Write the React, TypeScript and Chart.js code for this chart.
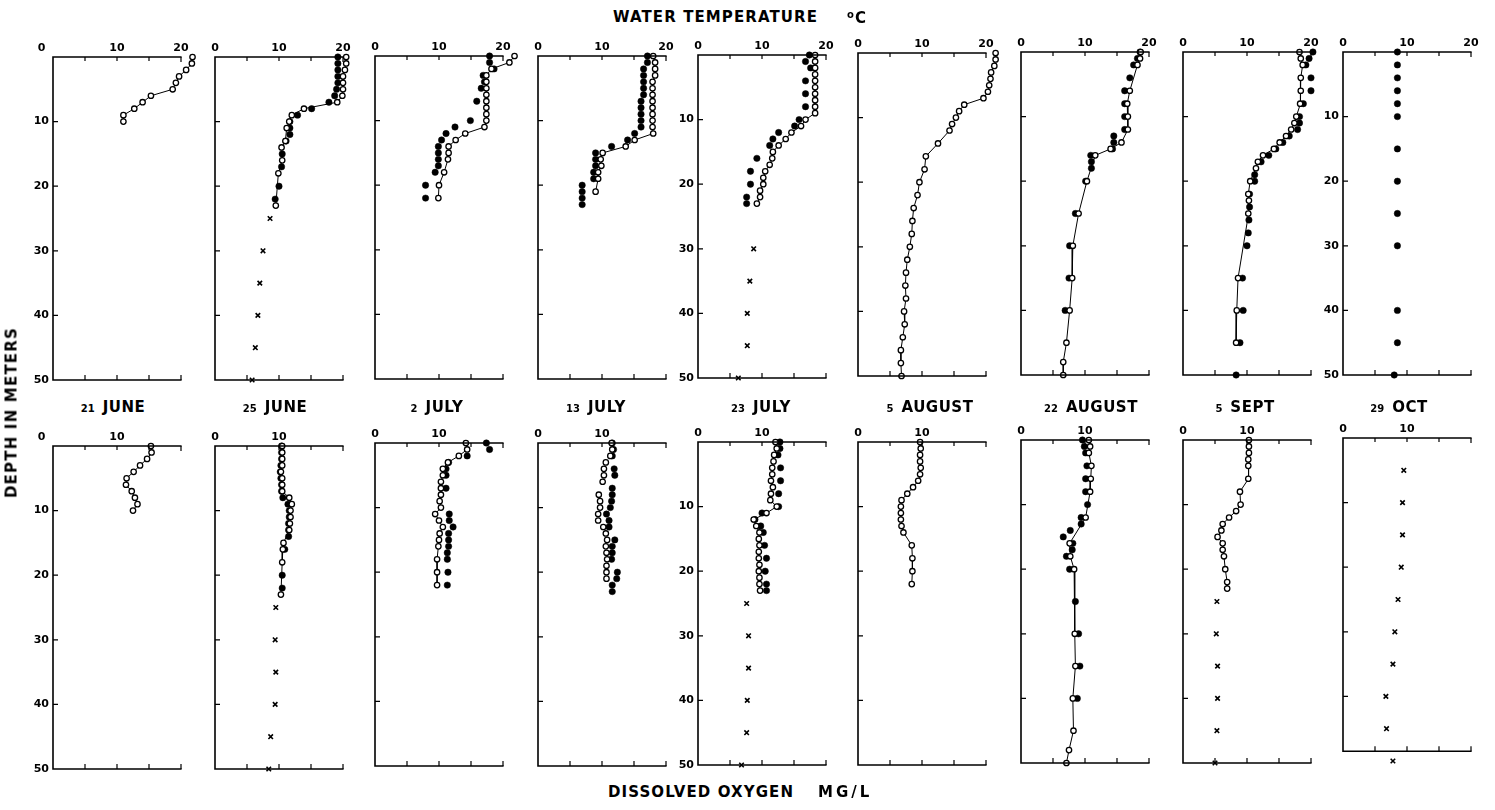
import React, { useEffect, useRef } from "react";
import { Chart, registerables } from "chart.js";

Chart.register(...registerables);

// ---------------- labels ----------------
const dateDays = ["21", "25", "2", "13", "23", "5", "22", "5", "29"];
const dateMonths = ["JUNE", "JUNE", "JULY", "JULY", "JULY", "AUGUST", "AUGUST", "SEPT", "OCT"];
const tempTickLabels = [0, 10, 20];
const oxyTickLabels = [0, 10];
const depthTickLabels = [10, 20, 30, 40, 50];

// ---------------- WATER TEMPERATURE (°C) vs depth (m) ----------------
// 21 June
const tJun21OpenDepth = [0, 1, 2, 3, 4, 5, 6, 7, 8, 9, 10];
const tJun21OpenVal = [21.8, 21.7, 20.8, 19.7, 19.2, 18.7, 15.3, 14.0, 12.7, 11.0, 11.0];
// 25 June
const tJun25OpenDepth = [0, 1, 2, 3, 4, 5, 6, 7, 8, 9, 10, 11, 13, 14, 16, 18, 23];
const tJun25OpenVal = [20.5, 20.5, 20.3, 20.0, 20.0, 20.0, 19.9, 19.1, 13.9, 12.0, 11.6, 11.2, 11.0, 10.4, 10.5, 9.9, 9.5];
const tJun25FilledDepth = [0, 1, 2, 3, 4, 5, 6, 7, 8, 9, 10, 11, 12, 13, 15, 17, 20, 22];
const tJun25FilledVal = [19.2, 19.2, 19.2, 19.2, 19.2, 19.0, 18.7, 17.8, 15.1, 12.9, 11.7, 11.7, 11.7, 11.1, 10.5, 10.4, 10.0, 9.4];
const tJun25CrossDepth = [25, 30, 35, 40, 45, 50];
const tJun25CrossVal = [8.6, 7.5, 7.0, 6.7, 6.3, 5.8];
// 2 July
const tJul02OpenDepth = [0, 1, 2, 3, 4, 5, 6, 7, 8, 9, 10, 11, 12, 13, 14, 15, 16, 18, 20, 22];
const tJul02OpenVal = [21.8, 21.0, 18.2, 17.4, 17.4, 17.4, 17.4, 17.4, 17.4, 17.4, 17.4, 17.1, 14.1, 12.6, 11.5, 11.5, 11.4, 10.8, 10.0, 9.9];
const tJul02FilledDepth = [0, 1, 2, 3, 4, 5, 7, 10, 11, 12, 13, 14, 15, 16, 17, 18, 20, 22];
const tJul02FilledVal = [17.9, 17.9, 18.6, 16.9, 17.1, 16.6, 15.9, 14.9, 12.5, 11.1, 10.4, 9.9, 9.9, 9.9, 9.9, 9.4, 7.9, 7.9];
// 13 July
const tJul13OpenDepth = [0, 1, 2, 3, 4, 5, 6, 7, 8, 9, 10, 11, 12, 13, 14, 15, 16, 17, 18, 19, 21];
const tJul13OpenVal = [18.0, 18.3, 18.3, 18.3, 17.9, 17.9, 17.9, 17.9, 17.9, 17.9, 17.9, 17.9, 18.0, 15.1, 13.7, 10.1, 9.8, 9.9, 9.4, 9.4, 9.0];
const tJul13FilledDepth = [0, 1, 2, 3, 4, 5, 6, 7, 8, 9, 10, 11, 12, 13, 14, 15, 16, 17, 18, 19, 20, 21, 22, 23];
const tJul13FilledVal = [17.1, 17.1, 16.5, 16.5, 16.5, 16.5, 16.5, 16.1, 16.1, 16.1, 16.1, 16.1, 15.1, 14.0, 11.5, 9.0, 9.0, 9.0, 8.7, 8.7, 6.9, 6.9, 6.9, 6.9];
// 23 July
const tJul23OpenDepth = [0, 1, 2, 3, 4, 5, 6, 7, 8, 9, 10, 11, 12, 13, 14, 15, 16, 17, 18, 19, 20, 21, 22, 23];
const tJul23OpenVal = [18.3, 18.3, 18.3, 18.3, 18.3, 18.3, 18.3, 18.3, 18.3, 18.3, 16.8, 16.1, 14.6, 13.7, 12.6, 11.7, 11.6, 11.2, 10.5, 10.2, 10.2, 9.7, 9.7, 9.2];
const tJul23FilledDepth = [0, 1, 2, 4, 6, 8, 10, 11, 12, 13, 14, 16, 18, 20, 22, 23];
const tJul23FilledVal = [17.4, 16.8, 17.6, 16.8, 16.8, 16.8, 15.8, 15.1, 12.6, 11.7, 11.2, 9.2, 8.2, 8.2, 7.6, 7.6];
const tJul23CrossDepth = [30, 35, 40, 45, 50];
const tJul23CrossVal = [8.7, 8.1, 7.7, 7.7, 6.3];
// 5 August
const tAug05OpenDepth = [0, 1, 2, 3, 4, 5, 6, 7, 8, 9, 10, 11, 12, 14, 16, 18, 20, 22, 24, 26, 28, 30, 32, 34, 36, 38, 40, 42, 44, 46, 48, 50];
const tAug05OpenVal = [21.5, 21.5, 21.3, 20.8, 20.7, 20.5, 20.3, 19.6, 16.6, 15.8, 15.3, 14.7, 14.3, 12.5, 10.6, 10.4, 9.6, 9.3, 8.7, 8.5, 8.4, 8.1, 7.7, 7.5, 7.4, 7.5, 7.2, 7.3, 7.0, 6.7, 6.7, 6.8];
// 22 August
const tAug22OpenDepth = [0, 1, 2, 6, 8, 10, 12, 14, 15, 16, 20, 25, 30, 35, 40, 45, 48, 50];
const tAug22OpenVal = [18.7, 18.6, 18.2, 17.0, 16.6, 16.7, 16.7, 15.7, 14.0, 11.6, 10.3, 9.0, 8.1, 8.0, 7.6, 7.1, 6.6, 6.6];
const tAug22FilledDepth = [0, 1, 2, 4, 6, 8, 10, 12, 13, 14, 15, 16, 17, 18, 20, 25, 30, 35, 40];
const tAug22FilledVal = [18.6, 18.2, 17.6, 17.0, 16.2, 16.2, 16.2, 16.2, 14.5, 14.5, 14.3, 10.9, 11.0, 11.0, 10.1, 8.5, 7.6, 7.5, 6.9];
// 5 September
const tSep05OpenDepth = [0, 1, 2, 4, 6, 8, 10, 11, 12, 13, 14, 15, 16, 17, 18, 20, 22, 23, 25, 35, 40, 45];
const tSep05OpenVal = [18.2, 18.4, 18.7, 18.4, 18.4, 18.3, 17.7, 17.4, 16.9, 16.1, 15.1, 14.2, 12.5, 11.7, 11.4, 10.5, 10.2, 10.3, 10.2, 8.6, 8.4, 8.3];
const tSep05FilledDepth = [0, 1, 2, 4, 6, 8, 10, 11, 12, 13, 14, 15, 16, 17, 19, 20, 22, 24, 26, 28, 30, 35, 40, 45, 50];
const tSep05FilledVal = [20.3, 19.7, 19.2, 20.0, 20.0, 18.8, 18.2, 18.2, 17.9, 16.6, 15.6, 14.5, 13.4, 12.2, 11.2, 11.2, 10.4, 10.4, 10.3, 10.2, 10.0, 9.3, 9.4, 8.9, 8.3];
// 29 October
const tOct29FilledDepth = [0, 2, 4, 6, 8, 10, 15, 20, 25, 30, 40, 45, 50];
const tOct29FilledVal = [8.5, 8.5, 8.5, 8.5, 8.5, 8.5, 8.5, 8.5, 8.5, 8.5, 8.5, 8.5, 8.0];

// ---------------- DISSOLVED OXYGEN (mg/L) vs depth (m) ----------------
// 21 June
const oJun21OpenDepth = [0, 1, 2, 3, 4, 5, 6, 7, 8, 9, 10];
const oJun21OpenVal = [15.3, 15.4, 14.7, 13.6, 12.6, 11.5, 11.4, 12.3, 12.8, 13.2, 12.5];
// 25 June
const oJun25OpenDepth = [0, 1, 2, 3, 4, 5, 6, 7, 8, 9, 10, 11, 12, 13, 15, 16, 18, 23];
const oJun25OpenVal = [10.5, 10.5, 10.5, 10.5, 10.3, 10.5, 10.5, 10.5, 11.6, 12.0, 11.8, 11.8, 11.7, 11.6, 10.7, 10.6, 10.5, 10.3];
const oJun25FilledDepth = [0, 1, 2, 3, 4, 5, 6, 7, 8, 9, 10, 11, 12, 13, 14, 16, 20, 22];
const oJun25FilledVal = [10.4, 10.4, 10.4, 10.3, 10.2, 10.3, 10.4, 10.4, 10.6, 11.4, 11.6, 11.6, 11.5, 11.5, 11.5, 10.9, 10.5, 10.5];
const oJun25CrossDepth = [25, 30, 35, 40, 45, 50];
const oJun25CrossVal = [9.5, 9.4, 9.5, 9.4, 8.7, 8.4];
// 2 July
const oJul02OpenDepth = [0, 1, 2, 3, 4, 5, 6, 7, 8, 9, 10, 11, 12, 13, 14, 15, 16, 18, 20, 22];
const oJul02OpenVal = [14.2, 14.4, 13.1, 11.4, 10.6, 10.6, 10.3, 10.3, 10.3, 10.1, 10.3, 9.4, 10.0, 10.6, 10.1, 10.0, 9.9, 9.7, 9.7, 9.7];
const oJul02FilledDepth = [0, 1, 2, 3, 4, 5, 7, 11, 12, 13, 14, 15, 16, 17, 18, 20, 22];
const oJul02FilledVal = [17.4, 17.9, 14.4, 11.5, 11.1, 11.1, 11.1, 11.6, 11.6, 12.2, 11.5, 11.5, 11.5, 11.3, 11.3, 11.4, 11.3];
// 13 July
const oJul13OpenDepth = [0, 1, 2, 3, 4, 5, 6, 8, 9, 10, 11, 12, 13, 14, 15, 16, 17, 18, 19, 20, 21];
const oJul13OpenVal = [11.5, 11.6, 11.3, 10.6, 10.3, 10.3, 10.1, 9.5, 9.7, 9.7, 9.4, 9.4, 10.2, 10.6, 10.8, 10.6, 10.7, 10.8, 10.7, 10.7, 10.7];
const oJul13FilledDepth = [0, 1, 2, 4, 5, 7, 8, 9, 10, 11, 12, 13, 15, 16, 17, 18, 20, 21, 22, 23];
const oJul13FilledVal = [11.6, 11.8, 11.6, 11.9, 12.0, 11.6, 11.6, 11.5, 11.3, 10.7, 11.1, 11.1, 12.0, 11.6, 11.6, 11.5, 12.4, 12.3, 11.6, 11.6];
// 23 July
const oJul23OpenDepth = [0, 1, 2, 3, 4, 5, 6, 7, 8, 9, 10, 11, 12, 13, 14, 15, 16, 17, 18, 19, 20, 21, 22, 23];
const oJul23OpenVal = [12.1, 12.3, 11.9, 11.8, 11.6, 11.6, 11.4, 11.7, 11.4, 11.3, 12.3, 10.7, 8.7, 9.1, 9.6, 9.5, 9.6, 9.5, 9.5, 9.6, 9.5, 9.6, 9.6, 9.7];
const oJul23FilledDepth = [0, 1, 2, 4, 6, 8, 10, 11, 12, 13, 14, 16, 18, 20, 22, 23];
const oJul23FilledVal = [12.8, 12.8, 12.5, 12.9, 12.9, 12.6, 12.6, 10.0, 8.9, 9.8, 10.2, 10.4, 10.7, 10.5, 10.7, 10.7];
const oJul23CrossDepth = [25, 30, 35, 40, 45, 50];
const oJul23CrossVal = [7.6, 7.9, 7.9, 7.7, 7.6, 6.8];
// 5 August
const oAug05OpenDepth = [0, 1, 2, 3, 4, 5, 6, 7, 8, 9, 10, 11, 12, 13, 14, 16, 18, 20, 22];
const oAug05OpenVal = [9.7, 9.8, 9.7, 9.7, 9.8, 9.7, 9.4, 8.6, 7.7, 6.8, 6.7, 6.7, 6.7, 6.8, 7.1, 8.4, 8.5, 8.5, 8.4];
// 22 August
const oAug22OpenDepth = [0, 1, 2, 4, 6, 8, 12, 16, 18, 20, 30, 35, 40, 45, 48, 50];
const oAug22OpenVal = [10.6, 10.8, 10.6, 11.0, 10.9, 10.8, 10.1, 7.6, 7.7, 8.3, 8.4, 8.5, 8.1, 8.2, 7.5, 7.1];
const oAug22FilledDepth = [0, 1, 2, 4, 6, 8, 10, 12, 13, 14, 15, 16, 17, 18, 20, 25, 30, 35, 40];
const oAug22FilledVal = [9.6, 9.9, 10.1, 10.3, 10.1, 10.1, 10.4, 9.4, 9.4, 7.7, 6.6, 8.1, 8.0, 7.1, 7.6, 8.5, 9.0, 9.2, 8.8];
// 5 September
const oSep05OpenDepth = [0, 1, 2, 3, 4, 6, 8, 10, 11, 12, 13, 14, 15, 16, 17, 18, 20, 22, 23];
const oSep05OpenVal = [10.3, 10.3, 10.3, 10.2, 10.2, 10.2, 8.9, 9.0, 8.3, 7.2, 6.2, 6.0, 5.4, 6.2, 6.2, 6.4, 6.6, 6.9, 6.9];
const oSep05CrossDepth = [25, 30, 35, 40, 45, 50];
const oSep05CrossVal = [5.3, 5.2, 5.4, 5.4, 5.3, 5.0];
// 29 October
const oOct29CrossDepth = [5, 10, 15, 20, 25, 30, 35, 40, 45, 50];
const oOct29CrossVal = [9.5, 9.3, 9.3, 9.1, 8.6, 8.1, 7.8, 6.7, 6.8, 7.8];

// ---------------- layout ----------------
type Kind = "open" | "filled" | "cross";
type Series = { kind: Kind; d: number[]; v: number[]; line?: boolean };
type PanelSpec = {
  row: number;
  col: number;
  series: Series[];
  showY: boolean;
  top: number;
  axisBottomDepth: number;
};

const PANEL_LEFTS = [53, 215, 375, 538, 698, 858, 1021, 1183, 1343];
const TOP_ROW_TOPS = [57, 57, 56, 56, 55, 53, 52, 52, 52];
const BOTTOM_ROW_TOPS = [446, 446, 443, 443, 442, 442, 440, 440, 438];
const DATE_CX = [113, 275, 437, 596, 761, 930, 1091, 1245, 1399];
const SCALE_H = 323; // pixels for 0..50 m
const X_MAX = 22.5; // room for readings above 20
const AREA_W = 144; // 0..22.5 -> 0..20 spans 128 px
const PAD_L = 45;
const PAD_T = 25;
const PAD_R = 6;
const PAD_B = 12;
const FONT = "'DejaVu Sans', 'Liberation Sans', sans-serif";

const tempSeries: Series[][] = [
  [{ kind: "open", d: tJun21OpenDepth, v: tJun21OpenVal, line: true }],
  [
    { kind: "open", d: tJun25OpenDepth, v: tJun25OpenVal, line: true },
    { kind: "filled", d: tJun25FilledDepth, v: tJun25FilledVal },
    { kind: "cross", d: tJun25CrossDepth, v: tJun25CrossVal },
  ],
  [
    { kind: "open", d: tJul02OpenDepth, v: tJul02OpenVal, line: true },
    { kind: "filled", d: tJul02FilledDepth, v: tJul02FilledVal },
  ],
  [
    { kind: "open", d: tJul13OpenDepth, v: tJul13OpenVal, line: true },
    { kind: "filled", d: tJul13FilledDepth, v: tJul13FilledVal },
  ],
  [
    { kind: "open", d: tJul23OpenDepth, v: tJul23OpenVal, line: true },
    { kind: "filled", d: tJul23FilledDepth, v: tJul23FilledVal },
    { kind: "cross", d: tJul23CrossDepth, v: tJul23CrossVal },
  ],
  [{ kind: "open", d: tAug05OpenDepth, v: tAug05OpenVal, line: true }],
  [
    { kind: "open", d: tAug22OpenDepth, v: tAug22OpenVal, line: true },
    { kind: "filled", d: tAug22FilledDepth, v: tAug22FilledVal },
  ],
  [
    { kind: "open", d: tSep05OpenDepth, v: tSep05OpenVal, line: true },
    { kind: "filled", d: tSep05FilledDepth, v: tSep05FilledVal },
  ],
  [{ kind: "filled", d: tOct29FilledDepth, v: tOct29FilledVal }],
];

const oxySeries: Series[][] = [
  [{ kind: "open", d: oJun21OpenDepth, v: oJun21OpenVal, line: true }],
  [
    { kind: "open", d: oJun25OpenDepth, v: oJun25OpenVal, line: true },
    { kind: "filled", d: oJun25FilledDepth, v: oJun25FilledVal },
    { kind: "cross", d: oJun25CrossDepth, v: oJun25CrossVal },
  ],
  [
    { kind: "open", d: oJul02OpenDepth, v: oJul02OpenVal, line: true },
    { kind: "filled", d: oJul02FilledDepth, v: oJul02FilledVal },
  ],
  [
    { kind: "open", d: oJul13OpenDepth, v: oJul13OpenVal },
    { kind: "filled", d: oJul13FilledDepth, v: oJul13FilledVal },
  ],
  [
    { kind: "open", d: oJul23OpenDepth, v: oJul23OpenVal, line: true },
    { kind: "filled", d: oJul23FilledDepth, v: oJul23FilledVal },
    { kind: "cross", d: oJul23CrossDepth, v: oJul23CrossVal },
  ],
  [{ kind: "open", d: oAug05OpenDepth, v: oAug05OpenVal, line: true }],
  [
    { kind: "open", d: oAug22OpenDepth, v: oAug22OpenVal, line: true },
    { kind: "filled", d: oAug22FilledDepth, v: oAug22FilledVal },
  ],
  [
    { kind: "open", d: oSep05OpenDepth, v: oSep05OpenVal, line: true },
    { kind: "cross", d: oSep05CrossDepth, v: oSep05CrossVal },
  ],
  [{ kind: "cross", d: oOct29CrossDepth, v: oOct29CrossVal }],
];

const Y_SHOW_TOP = [0, 4, 8];
const Y_SHOW_BOTTOM = [0, 4];

const panels: PanelSpec[] = [
  ...tempSeries.map((s, i) => ({
    row: 0,
    col: i,
    series: s,
    showY: Y_SHOW_TOP.includes(i),
    top: TOP_ROW_TOPS[i],
    axisBottomDepth: 50,
  })),
  ...oxySeries.map((s, i) => ({
    row: 1,
    col: i,
    series: s,
    showY: Y_SHOW_BOTTOM.includes(i),
    top: BOTTOM_ROW_TOPS[i],
    axisBottomDepth: i === 8 ? 48.5 : 50,
  })),
];

const decorPlugin = {
  id: "decor",
  afterDraw(chart: any, _args: any, opts: any) {
    const { ctx, scales } = chart;
    const xs = scales.x;
    const ys = scales.y;
    const x0 = xs.getPixelForValue(0);
    const xEnd = xs.getPixelForValue(20);
    const yTop = ys.getPixelForValue(0);
    const yBot = ys.getPixelForValue(opts.axisBottomDepth ?? 50);
    ctx.save();
    ctx.strokeStyle = "#000";
    ctx.lineCap = "butt";
    ctx.lineWidth = 1.6;
    ctx.beginPath();
    // top axis
    ctx.moveTo(x0 - 0.8, yTop);
    ctx.lineTo(xEnd + 0.6, yTop);
    // left axis
    ctx.moveTo(x0, yTop);
    ctx.lineTo(x0, yBot + 0.8);
    // bottom axis
    ctx.moveTo(x0 - 0.8, yBot);
    ctx.lineTo(xEnd + 0.6, yBot);
    ctx.stroke();

    ctx.lineWidth = 1.2;
    ctx.beginPath();
    for (const v of [5, 10, 15, 20]) {
      const px = xs.getPixelForValue(v);
      ctx.moveTo(px, yBot);
      ctx.lineTo(px, yBot - 5);
    }
    for (const v of [5, 10, 15]) {
      const px = xs.getPixelForValue(v);
      ctx.moveTo(px, yTop);
      ctx.lineTo(px, yTop + 4);
    }
    ctx.moveTo(xEnd, yTop);
    ctx.lineTo(xEnd, yTop + 5);
    for (const d of [10, 20, 30, 40]) {
      const py = ys.getPixelForValue(d);
      ctx.moveTo(x0, py);
      ctx.lineTo(x0 + 5, py);
    }
    ctx.stroke();
    ctx.restore();
  },
};

function makeDataset(s: Series) {
  const data = s.d.map((dep, i) => ({ x: s.v[i], y: dep }));
  const base: any = {
    data,
    clip: false,
    showLine: !!s.line,
    borderColor: "#000",
    borderWidth: 1,
    pointBorderColor: "#000",
    pointHoverRadius: 0,
  };
  if (s.kind === "open") {
    return { ...base, order: 0, pointStyle: "circle", pointRadius: 2.7, pointBorderWidth: 1.3, pointBackgroundColor: "#fff" };
  }
  if (s.kind === "filled") {
    return { ...base, order: 1, pointStyle: "circle", pointRadius: 3.2, pointBorderWidth: 0.5, pointBackgroundColor: "#000" };
  }
  return { ...base, order: 2, pointStyle: "crossRot", pointRadius: 3.2, pointBorderWidth: 1.6, pointBackgroundColor: "#000" };
}

function Panel({ spec }: { spec: PanelSpec }) {
  const ref = useRef<HTMLCanvasElement | null>(null);
  const cw = AREA_W + PAD_L + PAD_R;
  const ch = SCALE_H + PAD_T + PAD_B;
  const left = PANEL_LEFTS[spec.col] - PAD_L;
  const top = spec.top - PAD_T;

  useEffect(() => {
    if (!ref.current) return;
    const xLabels = spec.row === 0 ? tempTickLabels : oxyTickLabels;
    const tickFont = { family: FONT, size: 11, weight: "bold" as const };
    const chart = new Chart(ref.current, {
      type: "scatter",
      data: { datasets: spec.series.map(makeDataset) },
      plugins: [decorPlugin],
      options: {
        animation: false,
        responsive: false,
        devicePixelRatio: 1,
        events: [],
        layout: { padding: { left: 0, top: 0, right: PAD_R, bottom: PAD_B } },
        plugins: {
          legend: { display: false },
          tooltip: { enabled: false },
          decor: { axisBottomDepth: spec.axisBottomDepth },
        },
        scales: {
          x: {
            type: "linear",
            position: "top",
            min: 0,
            max: X_MAX,
            ticks: {
              stepSize: 10,
              includeBounds: false,
              autoSkip: false,
              maxRotation: 0,
              padding: 2,
              color: "#000",
              font: tickFont,
              callback: (v: any) => {
                const n = Number(v);
                if (!xLabels.includes(n)) return "";
                // first panel: the corner "0" sits left of the axis
                if (n === 0 && spec.col === 0) return "0\u2007\u2007\u2007";
                return String(n);
              },
            },
            grid: { display: false, drawTicks: false },
            border: { display: false },
            afterFit: (s: any) => {
              s.height = PAD_T;
            },
          },
          y: {
            type: "linear",
            position: "left",
            reverse: true,
            min: 0,
            max: 50,
            ticks: {
              display: spec.showY,
              stepSize: 10,
              autoSkip: false,
              padding: 4,
              color: "#000",
              font: tickFont,
              callback: (v: any) => (depthTickLabels.includes(Number(v)) ? String(v) : ""),
            },
            grid: { display: false, drawTicks: false },
            border: { display: false },
            afterFit: (s: any) => {
              s.width = PAD_L;
            },
          },
        },
      } as any,
    });
    return () => chart.destroy();
  }, []);

  return (
    <canvas
      ref={ref}
      width={cw}
      height={ch}
      style={{ position: "absolute", left, top, width: cw, height: ch }}
    />
  );
}

const textBase: React.CSSProperties = {
  position: "absolute",
  fontFamily: FONT,
  fontWeight: "bold",
  color: "#000",
  whiteSpace: "nowrap",
  lineHeight: 1,
};

export default function App() {
  return (
    <div
      style={{
        position: "fixed",
        left: 0,
        top: 0,
        width: 1495,
        height: 810,
        background: "#fff",
        overflow: "hidden",
      }}
    >
      {panels.map((p) => (
        <Panel key={`${p.row}-${p.col}`} spec={p} />
      ))}

      <div style={{ ...textBase, left: 613, top: 10, fontSize: 15, letterSpacing: 1.1 }}>WATER TEMPERATURE</div>
      <div style={{ ...textBase, left: 847, top: 10, fontSize: 15 }}>
        <span style={{ fontSize: 10, verticalAlign: 5, marginRight: 1 }}>o</span>C
      </div>

      {dateDays.map((day, i) => (
        <div
          key={i}
          style={{
            ...textBase,
            left: DATE_CX[i] - 60,
            width: 120,
            top: 399,
            textAlign: "center",
          }}
        >
          <span style={{ fontSize: 10, marginRight: 8 }}>{day}</span>
          <span style={{ fontSize: 15, letterSpacing: 0.5 }}>{dateMonths[i]}</span>
        </div>
      ))}

      <div
        style={{
          ...textBase,
          left: 12 - 100,
          top: 413 - 8,
          width: 200,
          textAlign: "center",
          fontSize: 15,
          letterSpacing: 1.2,
          transform: "rotate(-90deg)",
          transformOrigin: "50% 50%",
        }}
      >
        DEPTH IN METERS
      </div>

      <div style={{ ...textBase, left: 608, top: 785, fontSize: 15, letterSpacing: 1.1 }}>DISSOLVED OXYGEN</div>
      <div style={{ ...textBase, left: 818, top: 785, fontSize: 15, letterSpacing: 3 }}>MG/L</div>
    </div>
  );
}
